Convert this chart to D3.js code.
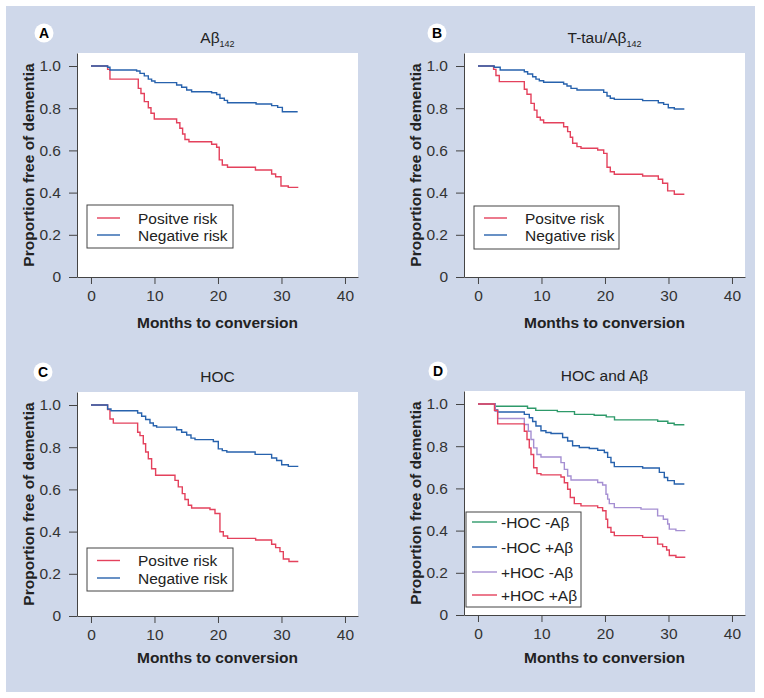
<!DOCTYPE html>
<html>
<head>
<meta charset="utf-8">
<script src="https://cdn.jsdelivr.net/npm/d3@7/dist/d3.min.js"></script>
<style>
  body { margin: 0; background: #fff; }
  svg { display: block; font-family: "Liberation Sans", Arial, sans-serif; }
</style>
</head>
<body>
<svg id="chart" width="764" height="698"></svg>
<script>
// ---------- data ----------
const xTicks = [0, 10, 20, 30, 40];
const yTicks = [0, 0.2, 0.4, 0.6, 0.8, 1.0];
const xLabel = "Months to conversion";
const yLabel = "Proportion free of dementia";

// Panel A: Aβ1-42
const aPosT = [0,2.62,2.99,7.45,7.87,8.40,9.03,9.45,9.97,13.49,14.0,14.43,14.8,15.43,19.0,19.79,20.2,20.68,21.5,25.9,28.45,29.08,29.92,31.07,32.65];
const aPosS = [1,0.984,0.938,0.894,0.870,0.831,0.802,0.776,0.749,0.731,0.705,0.678,0.652,0.641,0.629,0.615,0.555,0.531,0.520,0.507,0.488,0.475,0.431,0.425,0.425];
const aNegT = [0,2.62,2.99,7.19,7.72,8.40,9.03,9.55,10.08,13.49,14.28,15.07,15.85,19.0,19.79,20.31,21.0,21.5,26.0,28.45,29.4,30.14,32.55];
const aNegS = [1,0.994,0.981,0.976,0.965,0.953,0.938,0.929,0.921,0.910,0.899,0.886,0.878,0.873,0.865,0.847,0.837,0.826,0.820,0.812,0.804,0.783,0.783];

// Panel B: T-tau/Aβ1-42
const bPosT = [0,2.46,2.83,3.36,7.3,7.72,8.35,8.87,9.29,9.82,10.34,13.49,14.12,14.54,14.91,15.59,16.22,18.85,19.8,20.32,20.84,21.47,25.93,28.4,29.08,29.87,30.92,32.5];
const bPosS = [1,0.984,0.955,0.926,0.890,0.866,0.823,0.791,0.757,0.744,0.731,0.712,0.689,0.662,0.634,0.618,0.610,0.602,0.586,0.520,0.499,0.487,0.479,0.463,0.444,0.408,0.392,0.392];
const bNegT = [0,2.57,3.5,7.3,7.82,8.61,9.13,9.66,10.34,13.49,14.02,14.65,15.59,19.8,20.32,20.84,21.47,25.93,28.4,29.24,29.97,30.92,32.5];
const bNegS = [1,0.994,0.981,0.973,0.962,0.949,0.938,0.930,0.923,0.915,0.905,0.894,0.886,0.875,0.858,0.847,0.842,0.836,0.826,0.818,0.802,0.796,0.796];

// Panel C: HOC
const cPosT = [0,2.62,2.99,3.52,7.35,7.72,8.24,8.61,9.03,9.55,10.18,13.23,13.75,14.38,14.8,15.33,15.85,18.74,19.53,20.31,20.84,21.52,25.93,28.45,29.08,29.76,30.29,31.18,32.65];
const cPosS = [1,0.978,0.934,0.914,0.871,0.855,0.816,0.777,0.745,0.698,0.667,0.643,0.612,0.580,0.552,0.525,0.512,0.505,0.486,0.399,0.379,0.368,0.360,0.340,0.324,0.305,0.270,0.258,0.258];
const cNegT = [0,2.62,3.15,7.35,7.98,8.61,9.29,9.82,10.34,13.49,14.28,15.07,15.75,16.38,19.27,20.05,20.68,21.39,25.85,28.45,29.24,30.03,31.08,32.65];
const cNegS = [1,0.981,0.973,0.962,0.947,0.931,0.915,0.902,0.895,0.883,0.871,0.858,0.843,0.836,0.827,0.792,0.784,0.777,0.766,0.749,0.737,0.717,0.709,0.709];

// Panel D: HOC and Aβ
const dNNT = [0,2.7,7.8,9.1,12.5,15.2,18.3,20.2,21.5,28.3,29.9,30.9,32.5];
const dNNS = [1,0.989,0.980,0.970,0.964,0.951,0.947,0.939,0.925,0.918,0.909,0.902,0.902];
const dNPT = [0,2.73,3.1,7.3,8.08,8.61,9.13,9.92,10.7,11.5,13.33,14.12,14.9,15.96,17.53,18.85,19.9,20.42,20.94,21.47,25.93,28.56,29.34,29.87,30.92,32.5];
const dNPS = [1,0.972,0.962,0.951,0.935,0.917,0.896,0.873,0.865,0.860,0.841,0.825,0.802,0.794,0.789,0.781,0.770,0.747,0.723,0.703,0.697,0.676,0.652,0.637,0.621,0.621];
const dPNT = [0,2.7,3.1,7.3,7.93,8.35,8.77,9.29,9.92,13.07,13.6,14.12,14.65,18.85,19.63,20.16,20.42,20.68,21.47,25.67,28.29,29.19,29.87,30.13,31.17,32.65];
const dPNS = [1,0.965,0.931,0.903,0.871,0.832,0.792,0.761,0.749,0.722,0.690,0.659,0.640,0.628,0.616,0.572,0.549,0.528,0.509,0.502,0.470,0.454,0.431,0.407,0.400,0.400];
const dPPT = [0,2.6,3.1,7.3,7.72,8.08,8.35,8.77,9.29,9.92,13.07,13.6,14.12,14.54,15.17,16.22,18.85,19.63,20.16,20.42,20.94,21.47,25.93,28.29,29.08,29.71,30.13,31.17,32.65];
const dPPS = [1,0.970,0.906,0.871,0.832,0.792,0.761,0.698,0.670,0.664,0.654,0.627,0.596,0.557,0.528,0.517,0.509,0.494,0.454,0.415,0.392,0.376,0.368,0.336,0.324,0.308,0.282,0.274,0.274];

const twoNames = ["Positve risk", "Negative risk"];
const fourNames = ["-HOC -A\u03b2", "-HOC +A\u03b2", "+HOC -A\u03b2", "+HOC +A\u03b2"];

// ---------- styling ----------
const RED = "#e4415c", BLUE = "#2762ad", GREEN = "#2e9a6a", PURPLE = "#a58fd2";
const TXT = "#222";
const PW = 281, PH = 224;

const svg = d3.select("#chart");
svg.append("rect").attr("x", 6).attr("y", 6).attr("width", 749).attr("height", 686).attr("fill", "#cfd8ea");

const x = d3.scaleLinear().domain([-2.2, 42.05]).range([0, PW]);
const y = d3.scaleLinear().domain([0, PH / 211]).range([PH, 0]);
const line = d3.line().x(d => x(d[0])).y(d => y(d[1])).curve(d3.curveStepAfter);

function zip(T, S) { return T.map((t, i) => [t, S[i]]); }

const panels = [
  { letter: "A", ox: 77, oy: 53, lc: [44, 33], title: ["A\u03b2", "142"], xlab: 275,
    series: [[aPosT, aPosS, RED], [aNegT, aNegS, BLUE]], names: twoNames, colors: [RED, BLUE],
    leg: { x: 10, y: 152, w: 146, h: 43, rows: [165, 182], lx0: 20, lx1: 43, tx: 61 } },
  { letter: "B", ox: 464, oy: 53, lc: [437, 33], title: ["T-tau/A\u03b2", "142"], xlab: 275,
    series: [[bPosT, bPosS, RED], [bNegT, bNegS, BLUE]], names: twoNames, colors: [RED, BLUE],
    leg: { x: 10, y: 153, w: 145, h: 43, rows: [165, 182], lx0: 20, lx1: 43, tx: 61 } },
  { letter: "C", ox: 77, oy: 392, lc: [43, 372], title: ["HOC", ""], xlab: 271,
    series: [[cPosT, cPosS, RED], [cNegT, cNegS, BLUE]], names: twoNames, colors: [RED, BLUE],
    leg: { x: 10, y: 156, w: 146, h: 43, rows: [168.5, 186], lx0: 20, lx1: 43, tx: 61 } },
  { letter: "D", ox: 464, oy: 391, lc: [438, 371], title: ["HOC and A\u03b2", ""], xlab: 272,
    series: [[dNNT, dNNS, GREEN], [dNPT, dNPS, BLUE], [dPNT, dPNS, PURPLE], [dPPT, dPPS, RED]],
    names: fourNames, colors: [GREEN, BLUE, PURPLE, RED],
    leg: { x: 2, y: 121, w: 115, h: 95, rows: [131, 156, 181, 204], lx0: 8, lx1: 33, tx: 37 } }
];

panels.forEach(p => {
  const g = svg.append("g").attr("transform", `translate(${p.ox},${p.oy})`);
  g.append("rect").attr("width", PW).attr("height", PH).attr("fill", "#fff");

  // axes
  const ya = g.append("g").call(d3.axisLeft(y).tickValues(yTicks).tickSize(8).tickPadding(8).tickSizeOuter(0)
      .tickFormat(d => d === 0 ? "0" : d.toFixed(1)));
  const xa = g.append("g").attr("transform", `translate(0,${PH})`)
      .call(d3.axisBottom(x).tickValues(xTicks).tickSize(7).tickPadding(6).tickSizeOuter(0));
  [ya, xa].forEach(a => {
    a.attr("font-family", null).attr("font-size", null);
    a.selectAll("text").attr("font-size", "15.5px").attr("fill", "#333");
    a.selectAll("line, path").attr("stroke", "#444");
  });

  // curves
  p.series.forEach(s => {
    g.append("path").datum(zip(s[0], s[1])).attr("d", line)
      .attr("fill", "none").attr("stroke", s[2]).attr("stroke-width", 1.4);
  });

  // legend
  const L = p.leg;
  const lg = g.append("g");
  lg.append("rect").attr("x", L.x).attr("y", L.y).attr("width", L.w).attr("height", L.h)
    .attr("fill", "#fff").attr("stroke", "#444").attr("stroke-width", 1);
  p.names.forEach((n, i) => {
    lg.append("line").attr("x1", L.lx0).attr("x2", L.lx1).attr("y1", L.rows[i]).attr("y2", L.rows[i])
      .attr("stroke", p.colors[i]).attr("stroke-width", 1.4);
    lg.append("text").attr("x", L.tx).attr("y", L.rows[i] + 5.5).attr("font-size", "15.5px")
      .attr("fill", TXT).text(n);
  });

  // titles
  const t = g.append("text").attr("x", PW / 2).attr("y", -10).attr("text-anchor", "middle")
    .attr("font-size", "15.5px").attr("fill", TXT);
  t.append("tspan").text(p.title[0]);
  if (p.title[1]) t.append("tspan").attr("font-size", "9px").attr("dy", 3.5).text(p.title[1]);

  g.append("text").attr("x", PW / 2).attr("y", p.xlab).attr("text-anchor", "middle")
    .attr("font-size", "15.5px").attr("font-weight", "bold").attr("fill", TXT).text(xLabel);
  g.append("text").attr("transform", `translate(-43.5,${PH / 2}) rotate(-90)`).attr("text-anchor", "middle")
    .attr("font-size", "15.5px").attr("font-weight", "bold").attr("fill", TXT).text(yLabel);

  // panel letter
  svg.append("circle").attr("cx", p.lc[0]).attr("cy", p.lc[1]).attr("r", 9.5).attr("fill", "#fff");
  svg.append("text").attr("x", p.lc[0]).attr("y", p.lc[1] + 5).attr("text-anchor", "middle")
    .attr("font-size", "14px").attr("font-weight", "bold").attr("fill", "#000").text(p.letter);
});
</script>
</body>
</html>
